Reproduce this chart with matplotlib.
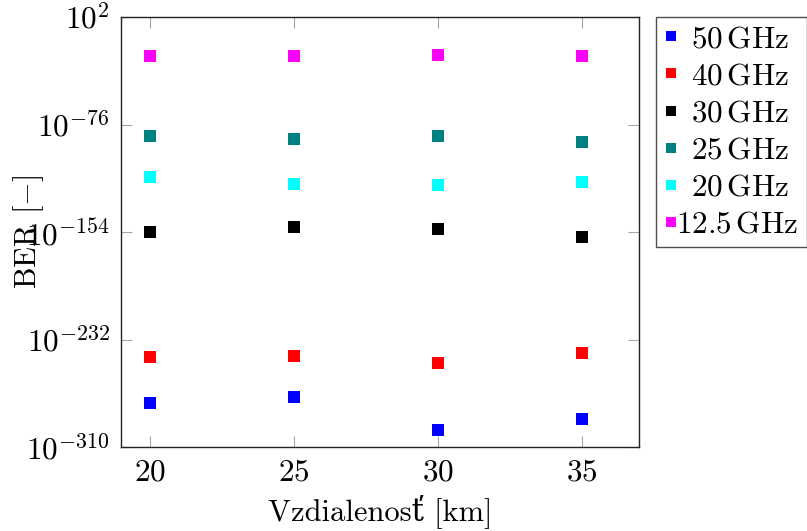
import numpy as np
import matplotlib
matplotlib.use('Agg')
import matplotlib.pyplot as plt

plt.rcParams['font.family'] = ['cmr10', 'DejaVu Serif']
plt.rcParams['mathtext.fontset'] = 'cm'
plt.rcParams['axes.unicode_minus'] = False

# distances [km]
distance = [20, 25, 30, 35]

# BER, stored as base-10 exponents
ber_50 = [-278, -274, -297.7, -289.5]
ber_40 = [-244.4, -243.9, -249.3, -241.7]
ber_30 = [-154.3, -150.1, -151.6, -157.4]
ber_25 = [-84.5, -86.2, -84.5, -88.4]
ber_20 = [-113.8, -118.9, -120.1, -117.4]
ber_125 = [-26.1, -26.1, -25.6, -26.1]

freqs = ['50', '40', '30', '25', '20', '12.5']
colors = ['#0000ff', '#ff0000', '#000000', '#008080', '#00ffff', '#ff00ff']
series = [ber_50, ber_40, ber_30, ber_25, ber_20, ber_125]

ytick_exp = [2, -76, -154, -232, -310]

fig = plt.figure(figsize=(8.07, 5.31), dpi=100)
ax = fig.add_axes([0.150, 0.158, 0.642, 0.810])

for f, c, s in zip(freqs, colors, series):
    # legend cells are centred in pgfplots, so push the shorter labels right
    pad = 0.55 if f != '12.5' else 0.0
    lab = r'$\hspace{%.2f}%s\,\mathrm{GHz}$' % (pad, f)
    ax.plot(distance, s, linestyle='none', marker='s', markersize=8.5,
            color=c, markeredgewidth=0, label=lab)

ax.set_xlim(19, 37)
ax.set_ylim(-310, 2)
ax.set_xticks(distance)
ax.set_xticklabels([r'$%d$' % d for d in distance])
ax.set_yticks(ytick_exp)
ax.set_yticklabels([r'$10^{%d}$' % e for e in ytick_exp])

ax.tick_params(direction='in', length=8, width=0.8, color='#a8a8a8',
               top=True, right=True, labelsize=22.5, pad=8)
for sp in ax.spines.values():
    sp.set_linewidth(1.0)
    sp.set_color('#222222')

ax.set_xlabel(u'Vzdialenosť [km]', fontsize=22, labelpad=6)
ax.set_ylabel(r'BER [$-$]', fontsize=22)
ax.yaxis.set_label_coords(-0.145, 0.5)

leg = ax.legend(loc='upper left', bbox_to_anchor=(1.033, 1.0), borderaxespad=0,
                fontsize=22.4, frameon=True, fancybox=False, edgecolor='#222222',
                handlelength=0.38, handletextpad=0.0, markerscale=0.9,
                labelspacing=0.3, borderpad=0.27)
leg.get_frame().set_linewidth(1.0)

fig.savefig('out.png', dpi=100)
